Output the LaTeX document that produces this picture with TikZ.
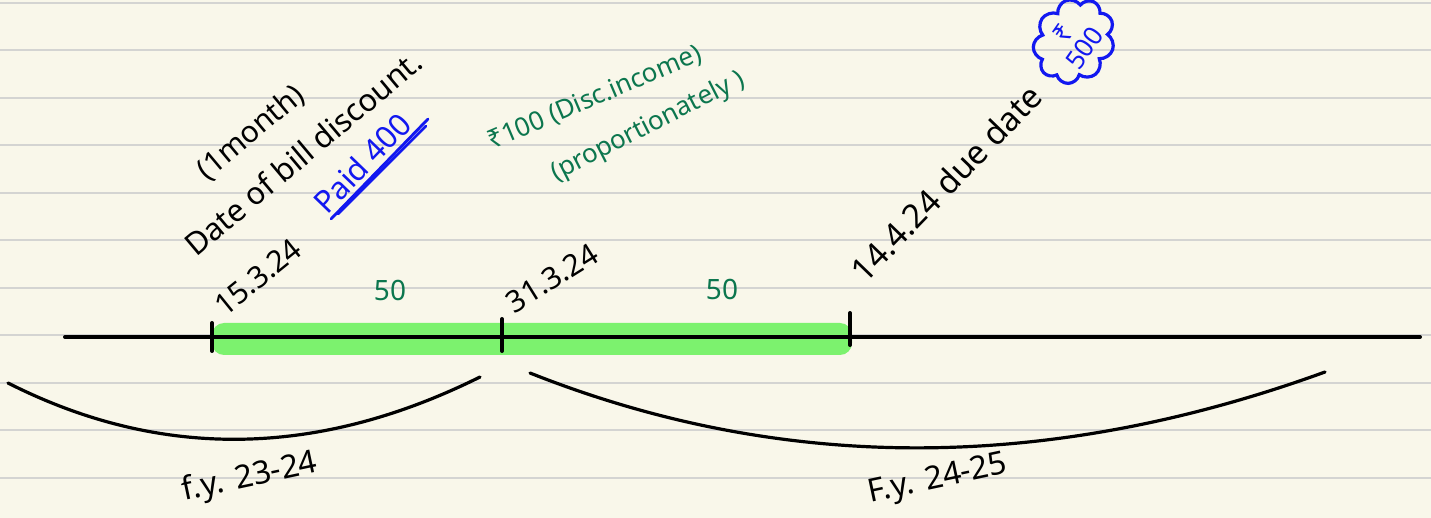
\documentclass[tikz,border=0pt]{standalone}
\usepackage{fontspec}
\setmainfont{Noto Sans}
\usetikzlibrary{shapes.symbols}
\definecolor{paper}{RGB}{249,247,234}
\definecolor{ruling}{RGB}{212,212,210}
\definecolor{barg}{RGB}{124,242,110}
\definecolor{inkblue}{RGB}{18,24,240}
\definecolor{inkgreen}{RGB}{12,118,78}
\tikzset{
  ink/.style={line width=2pt,line cap=round,black},
  hand/.style={inner sep=0pt,font=\fontsize{#1}{#1}\selectfont},
  hand/.default=15,
}
\begin{document}
\begin{tikzpicture}[x=0.5pt,y=-0.5pt]
\fill[paper] (0,0) rectangle (1431,518);
\useasboundingbox (0,0) rectangle (1431,518);
\foreach \k in {0,...,10}{
  \draw[ruling,line width=1pt] (0,{3+47.5*\k}) -- (1431,{3+47.5*\k});
}
% green bar
\fill[barg,rounded corners=6pt] (212,323) rectangle (852,355);
% timeline and ticks
\coordinate (tl) at (65,337);
\coordinate (tr) at (1420,337);
\draw[ink] (tl) -- (tr);
\coordinate (t1a) at (212,323); \coordinate (t1b) at (212,351);
\coordinate (t2a) at (502,319); \coordinate (t2b) at (502,351);
\coordinate (t3a) at (850,313); \coordinate (t3b) at (850,345);
\draw[ink] (t1a) -- (t1b);
\draw[ink] (t2a) -- (t2b);
\draw[ink] (t3a) -- (t3b);
% braces (arcs)
\coordinate (la) at (8,383); \coordinate (lb) at (480,377);
\coordinate (ra) at (530,373); \coordinate (rb) at (1325,372);
\draw[ink,line width=1.6pt] (la) .. controls (160,460) and (317,458) .. (lb);
\draw[ink,line width=1.6pt] (ra) .. controls (782,473) and (1047,473) .. (rb);
% texts
\node[hand=15,rotate=40] (month) at (251,133) {(1month)};
\node[hand=15.5,rotate=40] (date) at (303,153) {Date of bill discount.};
\node[hand=15,rotate=39] (d1) at (258,277) {15.3.24};
\node[hand=15.5,rotate=46,text=inkblue] (paid) at (362,163) {Paid 400};
\draw[inkblue,line width=1.4pt,line cap=round] (331,219) -- (428,119);
\draw[inkblue,line width=1.4pt,line cap=round] (338,214) -- (426,126);
\node[hand=13,rotate=23,text=inkgreen] (disc) at (595,98) {₹100 (Disc.income)};
\node[hand=13,rotate=27,text=inkgreen] (prop) at (648,127) {(proportionately )};
\node[hand=14,text=inkgreen] (f1) at (390,290) {50};
\node[hand=14,text=inkgreen] (f2) at (722,289) {50};
\node[hand=15,rotate=32] (d2) at (552,278) {31.3.24};
\node[hand=16.5,rotate=46] (d3) at (946,183) {14.4.24 due date};
\node[cloud,cloud puffs=9,draw=inkblue,line width=1.6pt,minimum width=88pt*0.5,minimum height=78pt*0.5,aspect=1,rotate=55,inner sep=0pt] (cl) at (1074,41) {};
\node[hand=13,rotate=55,text=inkblue,align=center] (amt) at (1074,41) {₹\\500};
\node[hand=16,rotate=12] (fy1) at (250,478) {f.y. 23-24};
\node[hand=16,rotate=12] (fy2) at (938,480) {F.y. 24-25};
\end{tikzpicture}
\end{document}
